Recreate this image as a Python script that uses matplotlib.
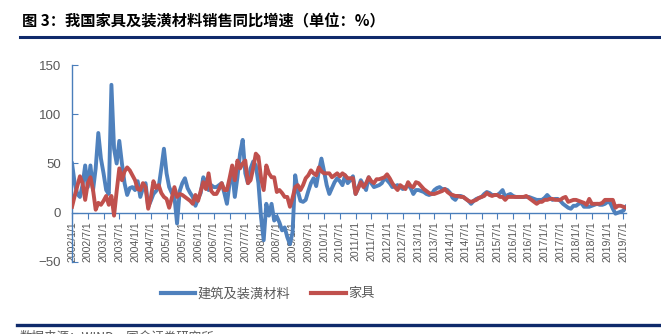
import matplotlib
matplotlib.use("Agg")
import matplotlib.pyplot as plt
from matplotlib.lines import Line2D

plt.rcParams["font.family"] = ["Liberation Sans", "Noto Sans CJK SC", "DejaVu Sans"]

# =========================
# data (monthly, 2002/1 - 2019/8), %
# =========================
building = [
    50, 30, 19, 16, 28, 48, 26, 48, 23, 45, 81, 55,      # 2002
    40, 23, 19, 130, 65, 50, 73, 50, 30, 18, 25, 26,     # 2003
    23, 32, 16, 25, 30, 6, 12, 19, 22, 26, 45, 65,       # 2004
    40, 26, 20, 16, -11, 22, 30, 35, 25, 20, 16, 7,      # 2005
    14, 20, 36, 30, 23, 28, 26, 26, 28, 30, 20, 9,       # 2006
    30, 41, 16, 36, 60, 74, 40, 30, 45, 52, 48, 30,      # 2007
    -5, -28, 9, -3, 9, -8, -4, -10, -18, -15, -25, -32,  # 2008
    -20, 38, 22, 12, 11, 13, 22, 30, 35, 27, 42, 55,     # 2009
    42, 28, 19, 25, 31, 35, 32, 28, 38, 30, 33, 37,      # 2010
    19, 25, 33, 28, 23, 36, 30, 26, 27, 28, 30, 35,      # 2011
    33, 30, 26, 27, 28, 26, 24, 26, 28, 25, 19, 23,      # 2012
    23, 22, 21, 19, 18, 19, 23, 25, 26, 24, 24, 23,      # 2013
    20, 15, 13, 17, 17, 16, 14, 12, 9, 12, 14, 15,       # 2014
    16, 19, 21, 20, 18, 18, 18, 20, 23, 16, 18, 19,      # 2015
    17, 16, 16, 16, 16, 16, 16, 15, 14, 13, 13, 13,      # 2016
    15, 18, 15, 13, 14, 14, 12, 9, 7, 5, 4, 7,           # 2017
    7, 9, 10, 6, 6, 6, 7, 8, 9, 8, 8, 9,                 # 2018
    11, 10, 4, -1, 0, 1, 2, 6,                           # 2019
]

furniture = [
    6, 17, 27, 37, 30, 13, 30, 36, 23, 3, 10, 8,         # 2002
    12, 17, 8, 17, -3, 22, 45, 33, 42, 46, 43, 38,       # 2003
    33, 24, 23, 30, 26, 4, 15, 32, 25, 28, 20, 16,       # 2004
    14, 5, 15, 26, 16, 19, 18, 16, 14, 12, 9, 18,        # 2005
    12, 22, 31, 24, 40, 22, 19, 19, 24, 30, 23, 23,      # 2006
    35, 48, 33, 53, 45, 50, 53, 30, 33, 45, 60, 57,      # 2007
    35, 23, 48, 40, 36, 36, 21, 23, 20, 16, 16, 6,       # 2008
    15, 26, 28, 23, 28, 35, 38, 43, 40, 38, 46, 42,      # 2009
    40, 40, 40, 36, 38, 40, 37, 40, 38, 35, 35, 35,      # 2010
    19, 25, 31, 26, 30, 36, 32, 30, 34, 34, 35, 36,      # 2011
    39, 35, 30, 26, 23, 28, 26, 24, 31, 27, 26, 31,      # 2012
    30, 27, 24, 22, 20, 19, 19, 20, 21, 22, 24, 21,      # 2013
    19, 18, 17, 17, 16, 16, 14, 12, 11, 12, 13, 15,      # 2014
    16, 17, 20, 18, 17, 18, 18, 16, 16, 13, 16, 16,      # 2015
    16, 16, 16, 16, 16, 17, 15, 13, 11, 9, 11, 11,       # 2016
    13, 13, 14, 14, 13, 13, 13, 15, 16, 11, 12, 13,      # 2017
    13, 12, 11, 10, 8, 14, 9, 9, 9, 9, 10, 13,           # 2018
    13, 13, 13, 5, 7, 7, 6, 5,                           # 2019
]

months = list(range(len(building)))
tick_pos = list(range(0, 211, 6))
tick_labels = [f"{2002 + m // 12}/{m % 12 + 1}/1" for m in tick_pos]
y_ticks = [-50, 0, 50, 100, 150]

BLUE = "#4f81bd"
RED = "#c0504d"
AXIS = "#4a7ebb"
NAVY = "#0f2a6b"
GREY = "#595959"

# =========================
# figure
# =========================
fig = plt.figure(figsize=(6.61, 3.34), dpi=100)
ax = fig.add_axes([0.109, 0.216, 0.838, 0.589])

ax.plot(months, building, color=BLUE, linewidth=2.8, zorder=3,
        solid_joinstyle="round", label="建筑及装潢材料")
ax.plot(months, furniture, color=RED, linewidth=2.8, zorder=3,
        solid_joinstyle="round", label="家具")

# spine moved to y=0 first (this resets the ticks), then style the ticks
for s in ["top", "right"]:
    ax.spines[s].set_visible(False)
ax.spines["bottom"].set_position(("data", 0))
ax.spines["left"].set_color(AXIS)
ax.spines["bottom"].set_color(AXIS)
ax.spines["left"].set_linewidth(1.0)
ax.spines["bottom"].set_linewidth(1.0)

ax.set_xlim(0, 211)
ax.set_ylim(-50, 150)
ax.set_yticks(y_ticks)
ax.set_xticks(tick_pos)
ax.set_xticklabels(tick_labels)

ax.tick_params(axis="y", direction="in", length=4, color=AXIS,
               labelsize=9.5, labelcolor=GREY, pad=8)
ax.tick_params(axis="x", direction="out", length=4, color=AXIS, pad=2,
               labelrotation=90, labelsize=7.6, labelcolor=GREY)

# legend
handles = [Line2D([0], [0], color=BLUE, linewidth=3),
           Line2D([0], [0], color=RED, linewidth=3)]
fig.legend(handles, ["建筑及装潢材料", "家具"], loc="center",
           bbox_to_anchor=(0.405, 0.12), ncol=2, frameon=False,
           handlelength=2.6, handletextpad=0.2, columnspacing=1.6,
           prop={"family": ["Noto Sans CJK SC"], "size": 9.5},
           labelcolor=GREY)

# title + rules
fig.text(0.033, 0.935, "图 3：我国家具及装潢材料销售同比增速（单位：%）",
         fontsize=11, fontweight="bold", family=["Noto Sans CJK SC"],
         ha="left", va="center", color="black")
fig.add_artist(Line2D([0.03, 1.0], [0.889, 0.889], color=NAVY, linewidth=2.2))
fig.add_artist(Line2D([0.025, 1.0], [0.028, 0.028], color=NAVY, linewidth=2.4))
# source note: only the top of it fits in the frame, as in the original
fig.text(0.03, 0.01, "数据来源：WIND，国金证券研究所",
         fontsize=9, family=["Noto Sans CJK SC"], ha="left", va="top",
         color=GREY)

fig.savefig("out.png", dpi=100)
